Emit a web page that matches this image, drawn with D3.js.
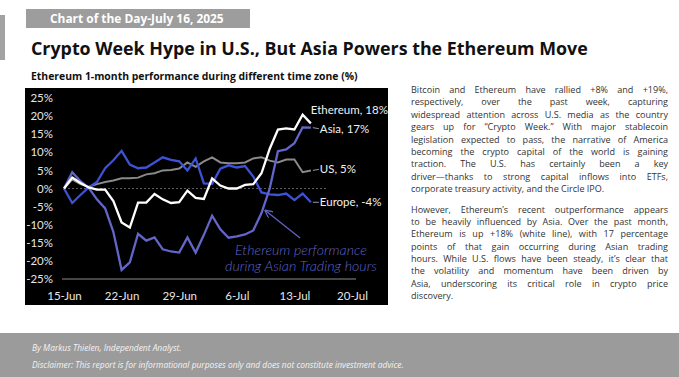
<!DOCTYPE html>
<html>
<head>
<meta charset="utf-8">
<script src="https://cdn.jsdelivr.net/npm/d3@7"></script>
<style>
body{margin:0;background:#fff;}
#wrap{position:relative;width:679px;height:377px;overflow:hidden;font-family:"Lato",sans-serif;}
#svg_canvas{position:absolute;left:0;top:0;}
#side_text{position:absolute;left:411px;top:84px;width:257px;font-family:"Open Sans",sans-serif;color:#333;}
.ln{height:12.4px;line-height:12.4px;white-space:nowrap;text-align:justify;text-align-last:justify;}
.ln.last{text-align-last:left;}
.gap{height:8px;}
</style>
</head>
<body>
<div id="wrap">
<svg id="svg_canvas" width="679" height="377"></svg>
<div id="side_text"></div>
</div>
<script>

// daily data, 15-Jun to 15-Jul 2025 (cumulative %)
var days = ["2025-06-15","2025-06-16","2025-06-17","2025-06-18","2025-06-19","2025-06-20","2025-06-21",
	"2025-06-22","2025-06-23","2025-06-24","2025-06-25","2025-06-26","2025-06-27","2025-06-28",
	"2025-06-29","2025-06-30","2025-07-01","2025-07-02","2025-07-03","2025-07-04","2025-07-05",
	"2025-07-06","2025-07-07","2025-07-08","2025-07-09","2025-07-10","2025-07-11","2025-07-12",
	"2025-07-13","2025-07-14","2025-07-15"];

var ethereum = [0,3,1.5,0.3,-0.3,-0.3,-3.5,-9.4,-10.8,-3.9,-3.9,-1.5,-3,-4,-3.8,-0.6,
	-2.6,-2.9,2.8,0.8,0,0,1,1.2,4.2,11,16.3,16.6,16.3,20.4,18];
var asia = [0,4.5,2,0.2,-3,-5.5,-12,-22.5,-20.4,-12.5,-14.4,-13.5,-16.8,-17.4,-17.7,-13.5,
	-17.7,-12.8,-7.5,-11.3,-13.6,-13.2,-12.7,-11.6,-6.8,0,10.3,10.8,12.5,16.9,16.8];
var us = [0,2.5,1.2,0.5,1.2,1.8,2.2,2.8,2.8,3,3.9,4.2,5,5.1,5.5,7.2,
	6,7.5,8.6,7.2,7,7,7.2,8.3,8.6,7.7,7.2,8,8,4.5,5];
var europe = [0,-4,-1.8,0.3,1.8,5.6,7.8,10.4,6.6,5.6,5.8,7.2,8.6,7.9,7.5,5,
	8.3,1.4,1.3,5.5,6.4,5.8,6.2,3.3,-1.1,-1.6,-1.8,-1.4,-3.2,-1.4,-3.8];

var series_names = ["US","Europe","Asia","Ethereum"];
var series_colors = ["#8a8a8a","#3e52d6","#6366c9","#ffffff"];

var y_ticks = [25,20,15,10,5,0,-5,-10,-15,-20,-25];
var x_tick_dates = ["2025-06-15","2025-06-22","2025-06-29","2025-07-06","2025-07-13","2025-07-20"];

var header_text = "Chart of the Day-July 16, 2025";
var title_text = "Crypto Week Hype in U.S., But Asia Powers the Ethereum Move";
var subtitle_text = "Ethereum 1-month performance during different time zone (%)";
var note_lines = ["Ethereum performance","during Asian Trading hours"];
var footer_lines = ["By Markus Thielen, Independent Analyst.",
	"Disclaimer: This report is for informational purposes only and does not constitute investment advice."];

var para1 = ["Bitcoin and Ethereum have rallied +8% and +19%,",
	"respectively, over the past week, capturing",
	"widespread attention across U.S. media as the country",
	"gears up for \u201cCrypto Week.\u201d With major stablecoin",
	"legislation expected to pass, the narrative of America",
	"becoming the crypto capital of the world is gaining",
	"traction. The U.S. has certainly been a key",
	"driver\u2014thanks to strong capital inflows into ETFs,",
	"corporate treasury activity, and the Circle IPO."];
var para2 = ["However, Ethereum\u2019s recent outperformance appears",
	"to be heavily influenced by Asia. Over the past month,",
	"Ethereum is up +18% (white line), with 17 percentage",
	"points of that gain occurring during Asian trading",
	"hours. While U.S. flows have been steady, it\u2019s clear that",
	"the volatility and momentum have been driven by",
	"Asia, underscoring its critical role in crypto price",
	"discovery."];


var parse = d3.timeParse("%Y-%m-%d");

// shrink/grow a text element until it fills the given width
function fit_text(sel, target){
	var node = sel.node();
	var fs = parseFloat(sel.attr("font-size"));
	var w = node.getComputedTextLength();
	sel.attr("font-size", fs*target/w);
}

function draw(){

	var svg = d3.select("#svg_canvas");

	// left marker bar + header box
	svg.append("rect").attr("x",0).attr("y",15).attr("width",5).attr("height",45).attr("fill","#a3a3a3");
	svg.append("rect").attr("x",26).attr("y",9).attr("width",224).attr("height",19).attr("fill","#9d9d9d");
	var h = svg.append("text").attr("x",50).attr("y",23).attr("font-family","Open Sans")
		.attr("font-weight",700).attr("font-size",12).attr("fill","#fff").text(header_text);
	fit_text(h,174);

	var t = svg.append("text").attr("x",31).attr("y",55).attr("font-family","Open Sans")
		.attr("font-weight",700).attr("font-size",19).attr("fill","#111").text(title_text);
	fit_text(t,557);

	var s = svg.append("text").attr("x",31).attr("y",80).attr("font-family","Open Sans")
		.attr("font-weight",700).attr("font-size",11).attr("fill","#111").text(subtitle_text);
	fit_text(s,327);

	// chart panel
	svg.append("rect").attr("x",25).attr("y",88).attr("width",363).attr("height",217).attr("fill","#000");

	var x = d3.scaleTime().domain([parse("2025-06-15"), parse("2025-07-20")]).range([64,352]);
	var y = d3.scaleLinear().domain([-25,25]).range([279,98]);

	var yAxis = svg.append("g").attr("transform","translate(53,0)")
		.call(d3.axisLeft(y).tickValues(y_ticks).tickSize(0).tickPadding(0).tickFormat(function(d){return d+"%";}));
	yAxis.select(".domain").remove();
	yAxis.selectAll("text").attr("fill","#e6e6e6").attr("font-family","Lato").attr("font-size",11.5);

	var xAxis = svg.append("g").attr("transform","translate(0,289)")
		.call(d3.axisBottom(x).tickValues(x_tick_dates.map(parse)).tickSize(0).tickPadding(3)
			.tickFormat(d3.timeFormat("%-d-%b")));
	xAxis.select(".domain").remove();
	xAxis.selectAll("text").attr("fill","#e6e6e6").attr("font-family","Lato").attr("font-size",11.5);

	// zero line (dotted) and bottom line
	svg.append("line").attr("x1",x(parse("2025-06-15"))).attr("x2",x(parse("2025-07-17")))
		.attr("y1",y(0)).attr("y2",y(0)).attr("stroke","#5a5a5a").attr("stroke-dasharray","2,2");
	svg.append("line").attr("x1",62).attr("x2",356)
		.attr("y1",y(-25)).attr("y2",y(-25)).attr("stroke","#8c8c8c").attr("stroke-width",1);

	var all_series = [us, europe, asia, ethereum];
	var line = d3.line()
		.x(function(d,i){return x(parse(days[i]));})
		.y(function(d){return y(d);});

	svg.selectAll("path.series").data(all_series).enter().append("path")
		.attr("class","series")
		.attr("d", function(d){return line(d);})
		.attr("fill","none")
		.attr("stroke", function(d,i){return series_colors[i];})
		.attr("stroke-width", function(d,i){return i==0 ? 2 : 2.3;})
		.attr("stroke-linejoin","miter");

	// end labels
	var last = days.length-1;
	var xe = x(parse(days[last]));
	var lab = svg.append("g").attr("font-family","Lato").attr("font-size",11.5).attr("fill","#f0f0f0");

	lab.append("text").attr("x",xe).attr("y",y(ethereum[last])-9).text("Ethereum, "+Math.round(ethereum[last])+"%");

	var others = [[asia,"Asia",5],[us,"US",3],[europe,"Europe",4]];
	others.forEach(function(o){
		var v = o[0][last];
		var yy = y(v)+o[2]-4;
		lab.append("line").attr("x1",xe+2).attr("x2",xe+8).attr("y1",y(v)).attr("y2",yy)
			.attr("stroke","#9a9a9a").attr("stroke-width",1);
		lab.append("text").attr("x",xe+9).attr("y",yy+4).text(o[1]+", "+Math.round(v)+"%");
	});

	// annotation arrow
	svg.append("defs").append("marker").attr("id","note_arrow")
		.attr("viewBox","0 0 10 10").attr("refX",8).attr("refY",5)
		.attr("markerWidth",6).attr("markerHeight",6).attr("orient","auto")
		.append("path").attr("d","M0,0L10,5L0,10").attr("fill","none").attr("stroke","#5f62c4").attr("stroke-width",1.6);
	svg.append("line").attr("x1",300).attr("y1",238).attr("x2",266).attr("y2",211)
		.attr("stroke","#5f62c4").attr("stroke-width",1.3).attr("marker-end","url(#note_arrow)");

	var note_w = [132,152];
	svg.selectAll("text.note").data(note_lines).enter().append("text")
		.attr("class","note")
		.attr("x",301).attr("y",function(d,i){return 255+i*16;})
		.attr("text-anchor","middle").attr("font-family","Lato").attr("font-style","italic")
		.attr("font-weight",300)
		.attr("font-size",13).attr("fill","#5f62c4").text(function(d){return d;})
		.each(function(d,i){ fit_text(d3.select(this), note_w[i]); });

	// footer
	svg.append("rect").attr("x",0).attr("y",333).attr("width",679).attr("height",44).attr("fill","#9b9b9b");
	var foot = svg.selectAll("text.foot").data(footer_lines).enter().append("text")
		.attr("class","foot")
		.attr("x",32).attr("y",function(d,i){return 351+i*16.5;})
		.attr("font-family","Open Sans").attr("font-style","italic").attr("font-size",8)
		.attr("fill","#f4f4f4").text(function(d){return d;});
	var disc = d3.select(foot.nodes()[1]);
	fit_text(disc, 372);
	d3.select(foot.nodes()[0]).attr("font-size", disc.attr("font-size"));
}

function print_text(){
	var box = d3.select("#side_text");
	// pick the font size so the widest line just fills the column,
	// but keep line boxes from running into each other
	var ctx = document.createElement("canvas").getContext("2d");
	ctx.font = "10px 'Open Sans'";
	var widest = d3.max(para1.concat(para2), function(l){return ctx.measureText(l).width;});
	var fs = Math.min(10*252/widest, 9.05);
	box.style("font-size", fs+"px");

	[para1, para2].forEach(function(p, k){
		if(k>0){ box.append("div").attr("class","gap"); }
		p.forEach(function(l, i){
			box.append("div").attr("class", i==p.length-1 ? "ln last" : "ln").text(l);
		});
	});
}

draw();
print_text();

</script>
</body>
</html>
